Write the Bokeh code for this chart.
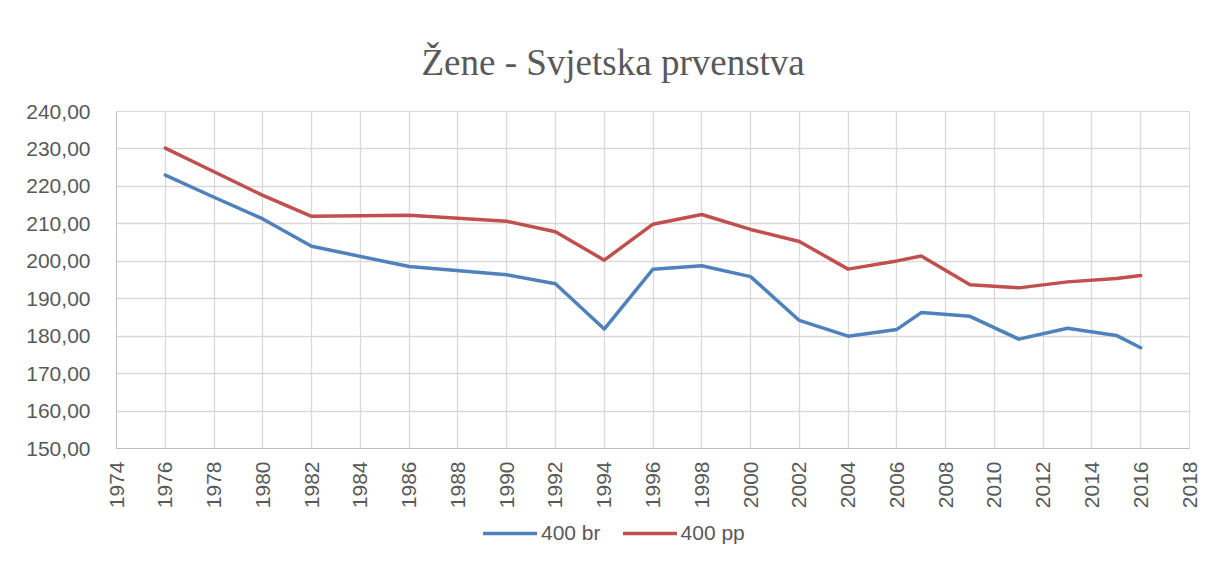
from bokeh.plotting import figure
from bokeh.models import FixedTicker, Legend, LegendItem
from bokeh.layouts import column
from bokeh.embed import file_html
from bokeh.resources import INLINE
import math

# ---- data ----
title_text = "Žene - Svjetska prvenstva"
years = [1976, 1978, 1980, 1982, 1986, 1990, 1992, 1994, 1996, 1998, 2000,
         2002, 2004, 2006, 2007, 2009, 2011, 2013, 2015, 2016]
br_400 = [223.0, 217.1, 211.3, 204.0, 198.6, 196.4, 194.0, 181.9, 197.9, 198.8, 195.9,
          184.2, 180.0, 181.8, 186.3, 185.3, 179.2, 182.1, 180.2, 176.9]
pp_400 = [230.2, 223.9, 217.6, 212.0, 212.3, 210.7, 207.9, 200.3, 209.9, 212.5, 208.5,
          205.3, 197.9, 200.1, 201.4, 193.7, 192.9, 194.5, 195.4, 196.2]
series_names = ["400 br", "400 pp"]
x_ticks = [1974, 1976, 1978, 1980, 1982, 1984, 1986, 1988, 1990, 1992, 1994, 1996,
           1998, 2000, 2002, 2004, 2006, 2008, 2010, 2012, 2014, 2016, 2018]
y_ticks = [150, 160, 170, 180, 190, 200, 210, 220, 230, 240]
y_tick_labels = ["150,00", "160,00", "170,00", "180,00", "190,00",
                 "200,00", "210,00", "220,00", "230,00", "240,00"]

BLUE = "#4F81BD"
RED = "#C0504D"
TXT = "#595959"
GRID = "#D9D9D9"
FONT = "Liberation Sans"
LW = 3.5

p = figure(width=1200, height=512, x_range=(1974, 2018), y_range=(150, 240),
           output_backend="svg", toolbar_location=None,
           min_border_left=116, min_border_top=111, min_border_right=11, min_border_bottom=64)

p.title.text = title_text
p.title.text_font = "Liberation Serif"
p.title.text_font_size = "37px"
p.title.text_font_style = "normal"
p.title.text_color = TXT
p.title.align = "left"
p.title.offset = 305
p.title.standoff = 57

p.outline_line_color = GRID
p.background_fill_color = "white"
p.border_fill_color = "white"

p.xaxis.ticker = FixedTicker(ticks=x_ticks)
p.yaxis.ticker = FixedTicker(ticks=y_ticks)
p.yaxis.major_label_overrides = {t: l for t, l in zip(y_ticks, y_tick_labels)}
p.xaxis.major_label_orientation = math.pi / 2

for ax in (p.xaxis, p.yaxis):
    ax.major_tick_in = 0
    ax.major_tick_out = 0
    ax.minor_tick_in = 0
    ax.minor_tick_out = 0
    ax.axis_line_color = "#BFBFBF"
    ax.major_label_text_font = FONT
    ax.major_label_text_font_size = "21px"
    ax.major_label_text_color = TXT
p.yaxis.major_label_standoff = 26
p.xaxis.major_label_standoff = 13

p.xgrid.ticker = FixedTicker(ticks=x_ticks)
p.ygrid.ticker = FixedTicker(ticks=y_ticks)
p.xgrid.grid_line_color = GRID
p.ygrid.grid_line_color = GRID
p.xgrid.grid_line_width = 1.3
p.ygrid.grid_line_width = 1.3

p.line(years, br_400, line_color=BLUE, line_width=LW, line_join="round", line_cap="round")
p.line(years, pp_400, line_color=RED, line_width=LW, line_join="round", line_cap="round")

# ---- legend strip (separate figure below the chart) ----
lg = figure(width=1200, height=48, x_range=(0, 1), y_range=(0, 1),
            output_backend="svg", toolbar_location=None,
            min_border_left=0, min_border_right=0, min_border_top=0, min_border_bottom=0)
lg.axis.visible = False
lg.grid.visible = False
lg.outline_line_color = None
lg.background_fill_color = "white"
lg.border_fill_color = "white"
# same series, drawn outside this strip's ranges so only the legend keys show
l1 = lg.line(years, br_400, line_color=BLUE, line_width=LW, line_cap="round")
l2 = lg.line(years, pp_400, line_color=RED, line_width=LW, line_cap="round")

legend = Legend(items=[LegendItem(label=series_names[0], renderers=[l1]),
                       LegendItem(label=series_names[1], renderers=[l2])],
                orientation="horizontal", location=(367, 15),
                label_text_font=FONT, label_text_font_size="21px", label_text_color=TXT,
                glyph_width=54, label_standoff=4, spacing=22, padding=0, margin=0,
                border_line_color=None, background_fill_alpha=0)
lg.add_layout(legend, "center")

layout = column(p, lg, spacing=0)
open("out.html", "w").write(file_html(layout, INLINE))
